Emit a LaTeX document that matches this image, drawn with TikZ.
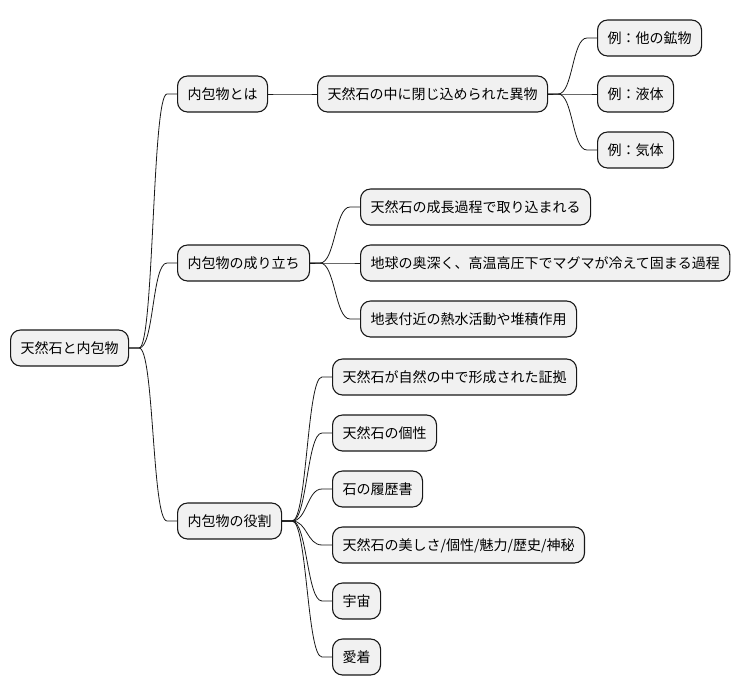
\documentclass[tikz,border=0pt]{standalone}
\usepackage{fontspec}
\setmainfont{Noto Sans CJK JP}
\definecolor{boxfill}{HTML}{F1F1F1}
\definecolor{boxline}{HTML}{181818}
\tikzset{
    box/.style={draw=boxline, fill=boxfill, line width=1.1pt, rounded corners=10pt,
        anchor=west, minimum height=36pt, inner xsep=10pt,
        text height=12pt, text depth=2pt, font=\fontsize{14pt}{16pt}\selectfont},
    edge/.style={draw=boxline, line width=0.8pt}
}
\begin{document}
\begin{tikzpicture}[x=1pt,y=-1pt]
    \useasboundingbox (0,0) rectangle (740,696);
    \node[box] (root) at (10,348) {天然石と内包物};
    \node[box] (intro) at (177,94) {内包物とは};
    \node[box] (origin) at (177,263) {内包物の成り立ち};
    \node[box] (role) at (177,521) {内包物の役割};
    \node[box] (foreign) at (317,94) {天然石の中に閉じ込められた異物};
    \node[box] (exa) at (597,38) {例：他の鉱物};
    \node[box] (exb) at (597,94) {例：液体};
    \node[box] (exc) at (597,150) {例：気体};
    \node[box] (grow) at (360,207) {天然石の成長過程で取り込まれる};
    \node[box] (magma) at (360,263) {地球の奥深く、高温高圧下でマグマが冷えて固まる過程};
    \node[box] (surface) at (360,319) {地表付近の熱水活動や堆積作用};
    \node[box] (proof) at (332,377) {天然石が自然の中で形成された証拠};
    \node[box] (unique) at (332,433) {天然石の個性};
    \node[box] (history) at (332,489) {石の履歴書};
    \node[box] (beauty) at (332,545) {天然石の美しさ/個性/魅力/歴史/神秘};
    \node[box] (cosmos) at (332,601) {宇宙};
    \node[box] (love) at (332,657) {愛着};
    \foreach \a/\b in {root/intro, root/origin, root/role, intro/foreign,
        foreign/exa, foreign/exb, foreign/exc, origin/grow, origin/magma, origin/surface,
        role/proof, role/unique, role/history, role/beauty, role/cosmos, role/love}
        \draw[edge] (\a.east) -- ++(10,0) .. controls +(15,0) and +(-15,0)
            .. ([xshift=-10pt]\b.west) -- (\b.west);
\end{tikzpicture}
\end{document}
